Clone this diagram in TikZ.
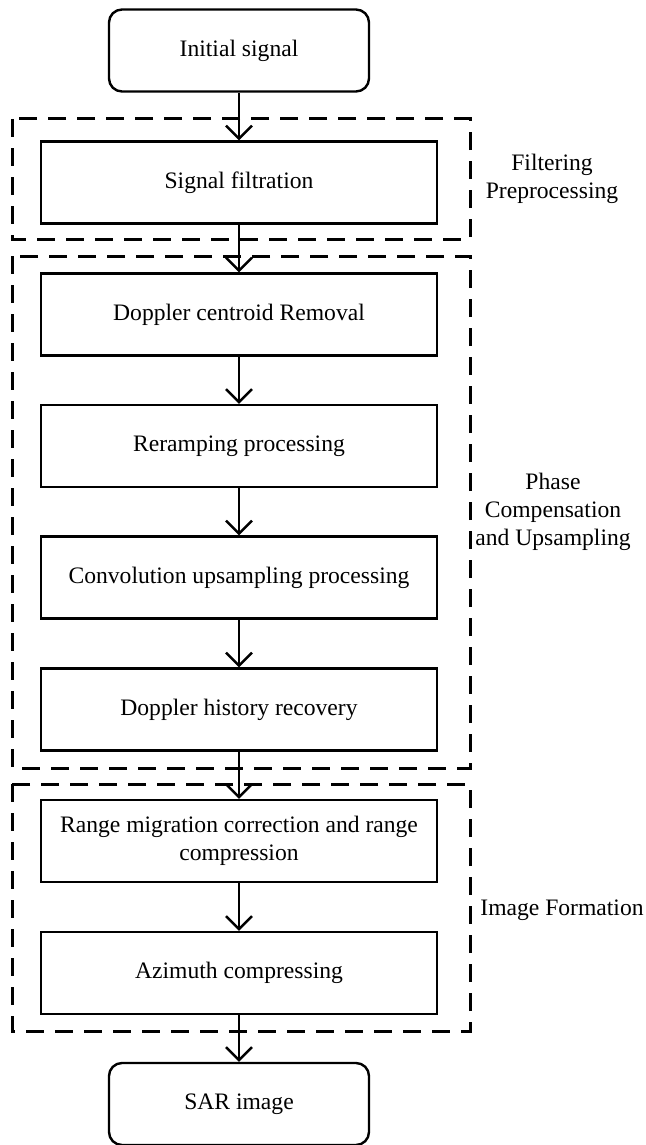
\documentclass[tikz,border=0pt]{standalone}
\usepackage{fontspec}
\setmainfont{Liberation Serif}
\usetikzlibrary{arrows.meta}
\begin{document}
\begin{tikzpicture}[x=0.5pt,y=-0.5pt,
  txt/.style={font=\fontsize{11.8pt}{14pt}\selectfont},
  proc/.style={txt, draw, line width=1.2pt, minimum width=198pt, minimum height=41pt, inner sep=0pt, align=center},
  term/.style={proc, rounded corners=6.5pt, minimum width=130pt},
  group/.style={draw, line width=1.5pt, dash pattern=on 9pt off 5.5pt},
  flow/.style={line width=1.2pt, -{Straight Barb[length=6.5pt,width=13pt,line width=1.2pt]}},
  lbl/.style={txt, align=center, inner sep=0pt}]
\useasboundingbox (0,0) rectangle (645,1145);
% groups
\draw[group] (12,119) rectangle (470,239);
\draw[group] (12,256) rectangle (470,768);
\draw[group] (12,784) rectangle (470,1031);
% nodes
\node[term] (init) at (239,50.5) {Initial signal};
\node[proc] (filt) at (239,182.5) {Signal filtration};
\node[proc] (dcr) at (239,314.5) {Doppler centroid Removal};
\node[proc] (rer) at (239,446) {Reramping processing};
\node[proc] (conv) at (239,577.5) {Convolution upsampling processing};
\node[proc] (dhr) at (239,709.5) {Doppler history recovery};
\node[proc] (rmc) at (239,841) {Range migration correction and range\\compression};
\node[proc] (azi) at (239,973) {Azimuth compressing};
\node[term] (sar) at (239,1104) {SAR image};
% labels
\node[lbl] (l1) at (552,179) {Filtering\\Preprocessing};
\node[lbl] (l2) at (553,512) {Phase\\Compensation\\and Upsampling};
\node[lbl] (l3) at (562,910) {Image Formation};
% connectors
\draw[flow] (init) -- (filt);
\draw[flow] (filt) -- (dcr);
\draw[flow] (dcr) -- (rer);
\draw[flow] (rer) -- (conv);
\draw[flow] (conv) -- (dhr);
\draw[flow] (dhr) -- (rmc);
\draw[flow] (rmc) -- (azi);
\draw[flow] (azi) -- (sar);
\end{tikzpicture}
\end{document}
